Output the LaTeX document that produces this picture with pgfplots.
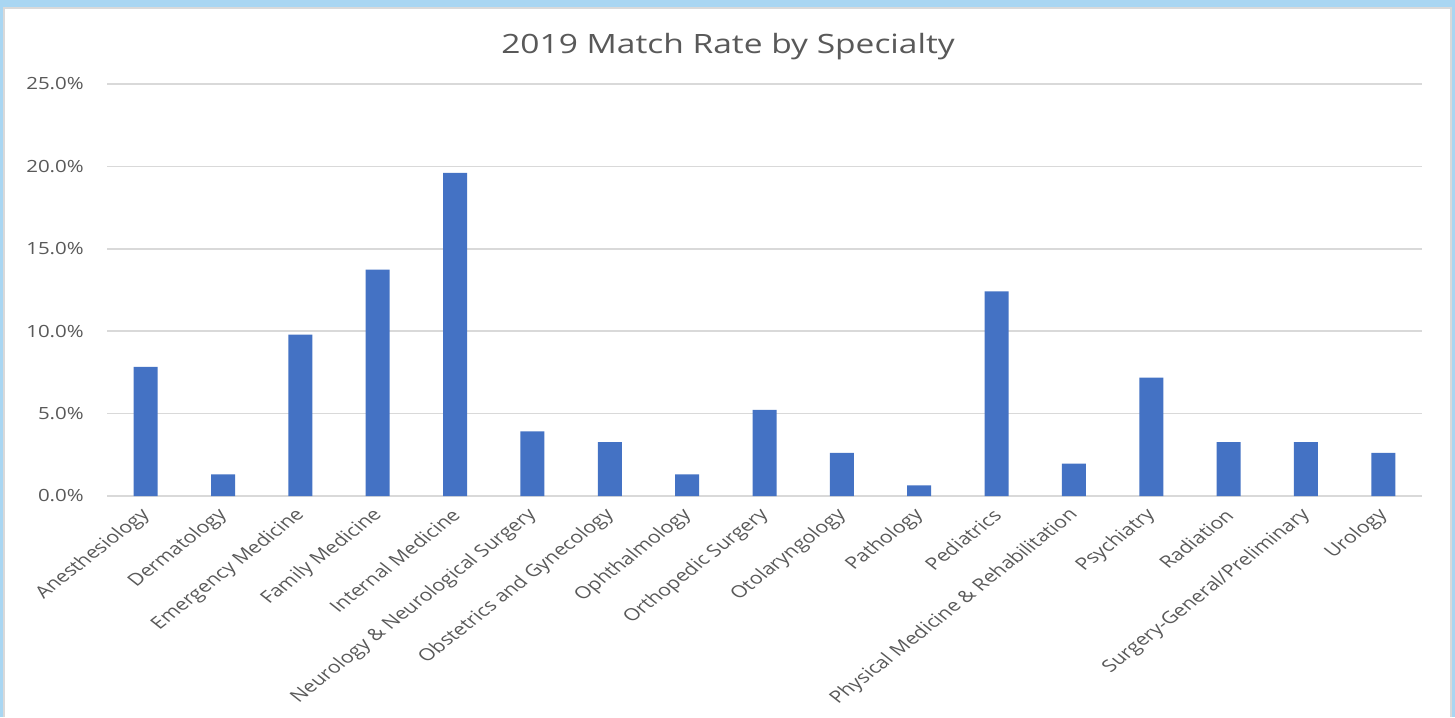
\documentclass[border=0pt]{standalone}
\usepackage{pgfplots}
\pgfplotsset{compat=1.18}
\usepackage{fontspec}
\setmainfont{Open Sans}
\definecolor{barblue}{HTML}{4472C4}
\definecolor{gridgray}{HTML}{D9D9D9}
\definecolor{txtgray}{HTML}{595959}
\definecolor{skyblue}{HTML}{A9D6F2}
\begin{document}
\begin{tikzpicture}
\fill[skyblue] (0,0) rectangle (727.5bp,-358.5bp);
\fill[white] (2bp,-4bp) rectangle (725.5bp,-358.5bp);
\draw[gridgray,line width=0.8bp] (2bp,-358.5bp) -- (2bp,-4bp) -- (725.5bp,-4bp) -- (725.5bp,-358.5bp);
\node[txtgray,font=\fontsize{13.3bp}{15bp}\selectfont,xscale=1.26] at (364bp,-23.5bp) {2019 Match Rate by Specialty};
\begin{axis}[
  at={(53.5bp,-248bp)}, anchor=south west,
  width=657.5bp, height=206bp, scale only axis,
  ymin=0, ymax=25, xmin=-0.5, xmax=16.5,
  ytick={0,5,10,15,20,25},
  yticklabels={0.0\%,5.0\%,10.0\%,15.0\%,20.0\%,25.0\%},
  xtick={0,...,16},
  xticklabels={Anesthesiology,Dermatology,Emergency Medicine,Family Medicine,Internal Medicine,Neurology \& Neurological Surgery,Obstetrics and Gynecology,Ophthalmology,Orthopedic Surgery,Otolaryngology,Pathology,Pediatrics,Physical Medicine \& Rehabilitation,Psychiatry,Radiation,Surgery-General/Preliminary,Urology},
  major tick length=0pt,
  axis line style={draw=none},
  ymajorgrids, grid style={gridgray, line width=0.8bp},
  tick label style={font=\fontsize{8.4bp}{10bp}\selectfont, text=txtgray},
  yticklabel style={xscale=1.22, anchor=east, xshift=-6bp},
  xticklabel style={xshift=1.4bp, yshift=-7.4bp, xscale=1.27, rotate=45, anchor=east, inner sep=1bp},
  ybar, bar width=12bp,
]
\addplot[fill=barblue, draw=none] coordinates {
(0,7.84) (1,1.31) (2,9.80) (3,13.73) (4,19.61) (5,3.92) (6,3.27) (7,1.31) (8,5.23)
(9,2.61) (10,0.65) (11,12.42) (12,1.96) (13,7.19) (14,3.27) (15,3.27) (16,2.61)};
\end{axis}
\end{tikzpicture}
\end{document}
